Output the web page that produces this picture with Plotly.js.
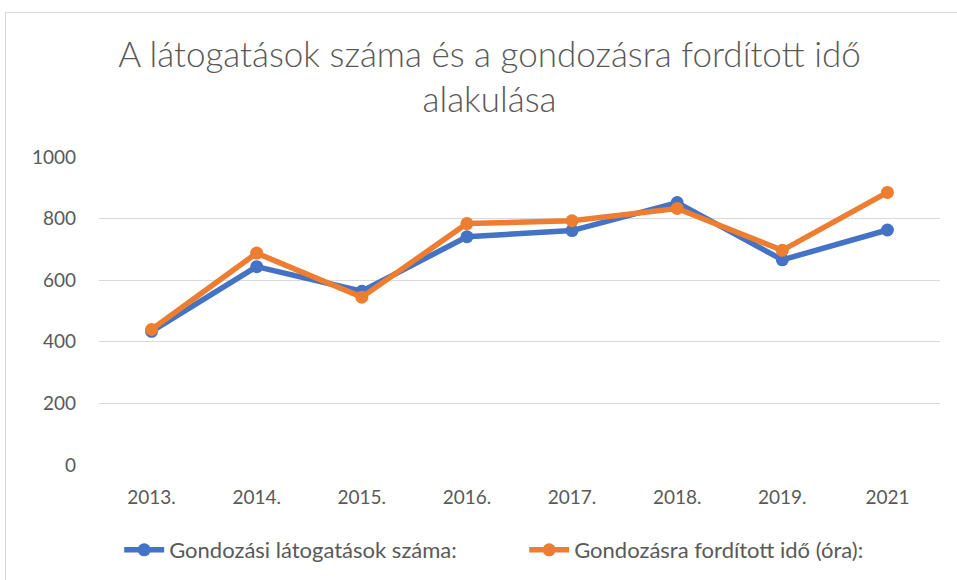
<!DOCTYPE html>
<html>
<head>
<meta charset="utf-8">
<script src="https://cdn.plot.ly/plotly-3.0.1.min.js"></script>
<style>
html,body{margin:0;padding:0;background:#fff;}
#wrap{position:relative;width:957px;height:580px;overflow:hidden;}
#chart{position:absolute;left:0;top:0;width:957px;height:580px;}
#frame{position:absolute;left:5px;top:12px;width:1000px;height:1000px;border:1px solid #d9d9d9;pointer-events:none;}
</style>
</head>
<body>
<div id="wrap"><div id="chart"></div><div id="frame"></div></div>
<script>
var years = ["2013.", "2014.", "2015.", "2016.", "2017.", "2018.", "2019.", "2021"];
var latogatasok = [434, 644, 564, 741, 761, 852, 666, 763];
var ido = [440, 688, 545, 784, 793, 833, 697, 885];
var seriesNames = ["Gondozási látogatások száma:", "Gondozásra fordított idő (óra):"];
var yTicks = [0, 200, 400, 600, 800, 1000];

var fontFam = "Lato, 'Open Sans', sans-serif";
var traces = [
  {x: years, y: latogatasok, name: seriesNames[0], type: "scatter", mode: "lines+markers",
   line: {color: "#4472C4", width: 5.5}, marker: {color: "#4472C4", size: 13}},
  {x: years, y: ido, name: seriesNames[1], type: "scatter", mode: "lines+markers",
   line: {color: "#ED7D31", width: 5.5}, marker: {color: "#ED7D31", size: 13}}
];
var layout = {
  width: 957, height: 580,
  paper_bgcolor: "#fff", plot_bgcolor: "#fff",
  margin: {l: 99, r: 17, t: 157, b: 115, autoexpand: false},
  title: {text: "A látogatások száma és a gondozásra fordított idő<br>alakulása",
          font: {family: fontFam, size: 35, color: "#595959", weight: 300},
          x: 0.5115, xanchor: "center", y: 0.885, yanchor: "top"},
  font: {family: fontFam, color: "#595959", size: 19},
  showlegend: true,
  legend: {orientation: "h", x: 0.024, xanchor: "left", y: -0.208, yanchor: "top",
           font: {size: 22, color: "#595959"}, itemwidth: 40, traceorder: "normal",
           entrywidth: 350},
  xaxis: {type: "category", range: [-0.5, 7.5], showgrid: false, zeroline: false,
          showline: false, ticks: "", tickfont: {size: 19, color: "#595959"}, ticklabelstandoff: 19},
  yaxis: {range: [0, 1000], tickvals: yTicks, showgrid: true, gridcolor: "#d9d9d9", gridwidth: 1,
          zeroline: false, showline: false, ticks: "", tickfont: {size: 19, color: "#595959"},
          ticklabelstandoff: 22}
};
Plotly.newPlot("chart", traces, layout, {displayModeBar: false, staticPlot: true});
</script>
</body>
</html>
